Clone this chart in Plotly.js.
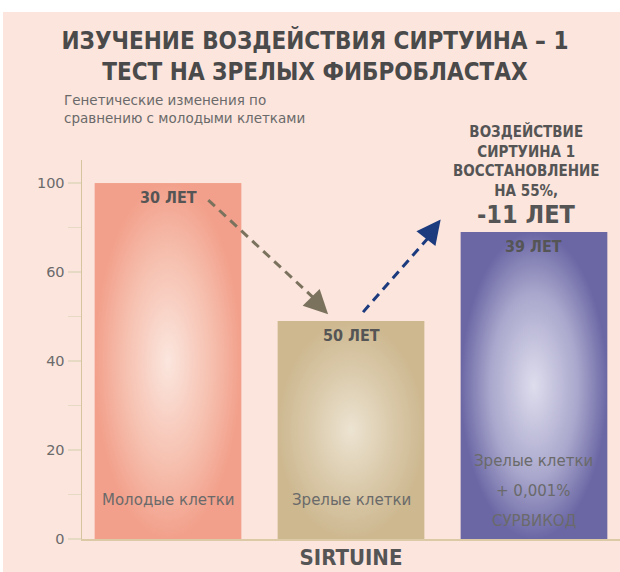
<!DOCTYPE html>
<html><head><meta charset="utf-8">
<script src="https://cdn.plot.ly/plotly-3.0.1.min.js"></script>
<style>body{margin:0;padding:0;background:#fff}#chart{width:620px;height:572px}</style>
</head><body><div id="chart"></div>
<script>
// ---- data ----
const categoryLines = [['Молодые клетки'], ['Зрелые клетки'], ['Зрелые клетки', '+ 0,001%', 'СУРВИКОД']];
const values = [80, 49, 69];
const ageLabels = ['30 ЛЕТ', '50 ЛЕТ', '39 ЛЕТ'];
const yTickVals = [0, 20, 40, 60, 80];
const yTickText = ['0', '20', '40', '60', '100'];
const effectLines = ['ВОЗДЕЙСТВИЕ', 'СИРТУИНА 1', 'ВОССТАНОВЛЕНИЕ', 'НА 55%,'];
const effectYears = '-11 ЛЕТ';
const titleText = 'ИЗУЧЕНИЕ ВОЗДЕЙСТВИЯ СИРТУИНА – 1<br>ТЕСТ НА ЗРЕЛЫХ ФИБРОБЛАСТАХ';
const subtitleText = 'Генетические изменения по<br>сравнению с молодыми клетками';
const xTitle = 'SIRTUINE';

// ---- styles ----
const edgeColors = ['#f2a08b', '#cdb890', '#6b67a5'];
const midColors = ['#f6bfae', '#d9c8a8', '#a9a7cc'];
const centerColors = ['#fbe6de', '#ece3d1', '#dedded'];
const narrow = 'DejaVu Sans Condensed, sans-serif';
const textGrey = '#555555';
const lightGrey = '#6a6a6a';
const W = 0.8;
const idx = values.map((v, i) => i);

const traces = [{
  type: 'bar', x: idx, y: values, width: W,
  marker: {color: edgeColors, line: {width: 0}},
  hoverinfo: 'skip', showlegend: false
}];
idx.forEach(i => {
  traces.push({
    type: 'scatter', mode: 'lines',
    x: [i - W / 2, i + W / 2, i + W / 2, i - W / 2, i - W / 2],
    y: [0, 0, values[i], values[i], 0],
    fill: 'toself', line: {width: 0},
    fillcolor: edgeColors[i],
    fillgradient: {type: 'radial', colorscale: [[0, centerColors[i]], [0.6, midColors[i]], [1, edgeColors[i]]]},
    hoverinfo: 'skip', showlegend: false
  });
});

const annotations = [];
idx.forEach(i => {
  annotations.push({
    x: i, y: values[i], xref: 'x', yref: 'y', yanchor: 'top', yshift: -3,
    text: '<b>' + ageLabels[i] + '</b>', showarrow: false,
    font: {family: narrow, size: 16, color: textGrey}
  });
  const lines = categoryLines[i];
  lines.forEach((t, k) => {
    const fromBottom = lines.length === 1 ? 39 : 18 + 30 * (lines.length - 1 - k);
    annotations.push({
      x: i, y: 0, xref: 'x', yref: 'y', yanchor: 'middle', yshift: fromBottom,
      text: t, showarrow: false,
      font: {family: 'DejaVu Sans, sans-serif', size: 15, color: lightGrey}
    });
  });
});
// effect text above third bar
annotations.push({
  x: 2, y: values[2], xref: 'x', yref: 'y', yanchor: 'bottom', yshift: 30, xshift: -7,
  text: '<b>' + effectLines.join('<br>') + '</b>', showarrow: false,
  font: {family: narrow, size: 15, color: textGrey}
});
annotations.push({
  x: 2, y: values[2], xref: 'x', yref: 'y', yanchor: 'bottom', yshift: 1, xshift: -7,
  text: '<b>' + effectYears + '</b>', showarrow: false,
  font: {family: narrow, size: 25, color: textGrey}
});
// subtitle
annotations.push({
  x: -0.037, y: 1.134, xref: 'paper', yref: 'paper', xanchor: 'left', yanchor: 'middle', align: 'left',
  text: subtitleText, showarrow: false,
  font: {family: 'DejaVu Sans, sans-serif', size: 13.5, color: lightGrey}
});
// arrowheads
annotations.push({
  x: 0.875, y: 50.5, xref: 'x', yref: 'y', ax: -8, ay: -8, axref: 'pixel', ayref: 'pixel',
  showarrow: true, arrowhead: 2, arrowsize: 1.6, arrowwidth: 3, arrowcolor: '#7b725e', text: ''
});
annotations.push({
  x: 1.49, y: 71.8, xref: 'x', yref: 'y', ax: -7, ay: 9, axref: 'pixel', ayref: 'pixel',
  showarrow: true, arrowhead: 2, arrowsize: 1.6, arrowwidth: 3, arrowcolor: '#1b3b7e', text: ''
});

const shapes = [
  {type: 'rect', xref: 'paper', yref: 'paper', x0: -0.1468, x1: 1.01, y0: -0.1, y1: 1.3905,
   fillcolor: '#fce5dd', line: {width: 0}, layer: 'below'},
  {type: 'line', xref: 'x', yref: 'y', x0: 0.22, y0: 76.2, x1: 0.84, y1: 52.5,
   line: {color: '#7b725e', width: 3, dash: '9px,6px'}},
  {type: 'line', xref: 'x', yref: 'y', x0: 1.066, y0: 51, x1: 1.46, y1: 69.5,
   line: {color: '#1b3b7e', width: 3, dash: '9px,6px'}}
];

const layout = {
  width: 620, height: 572,
  margin: {l: 82, r: 0, t: 160, b: 33},
  paper_bgcolor: '#ffffff', plot_bgcolor: 'rgba(0,0,0,0)',
  title: {
    text: '<b>' + titleText + '</b>', x: 0.508, xanchor: 'center', y: 0.914, yanchor: 'middle',
    font: {family: narrow, size: 24, color: '#4a4a4a'}
  },
  xaxis: {
    range: [-0.47, 2.47], showline: true, linecolor: '#dccaa6', linewidth: 2,
    showticklabels: false, ticks: '', showgrid: false, zeroline: false, fixedrange: true,
    title: {text: '<b>' + xTitle + '</b>', standoff: 10, font: {family: narrow, size: 22, color: textGrey}}
  },
  yaxis: {
    range: [0, 85.2], showline: true, linecolor: '#d6c49f', linewidth: 1.5,
    tickmode: 'array', tickvals: yTickVals, ticktext: yTickText,
    ticks: 'outside', ticklen: 13, tickwidth: 1.5, tickcolor: '#e6dac4',
    minor: {tickmode: 'linear', tick0: 0, dtick: 10, ticks: 'outside', ticklen: 13, tickwidth: 1.5, tickcolor: '#e6dac4'},
    tickfont: {family: 'DejaVu Sans, sans-serif', size: 14.5, color: lightGrey},
    showgrid: false, zeroline: false, fixedrange: true
  },
  annotations: annotations,
  shapes: shapes,
  showlegend: false
};

Plotly.newPlot('chart', traces, layout, {displayModeBar: false, staticPlot: true});
</script></body></html>
